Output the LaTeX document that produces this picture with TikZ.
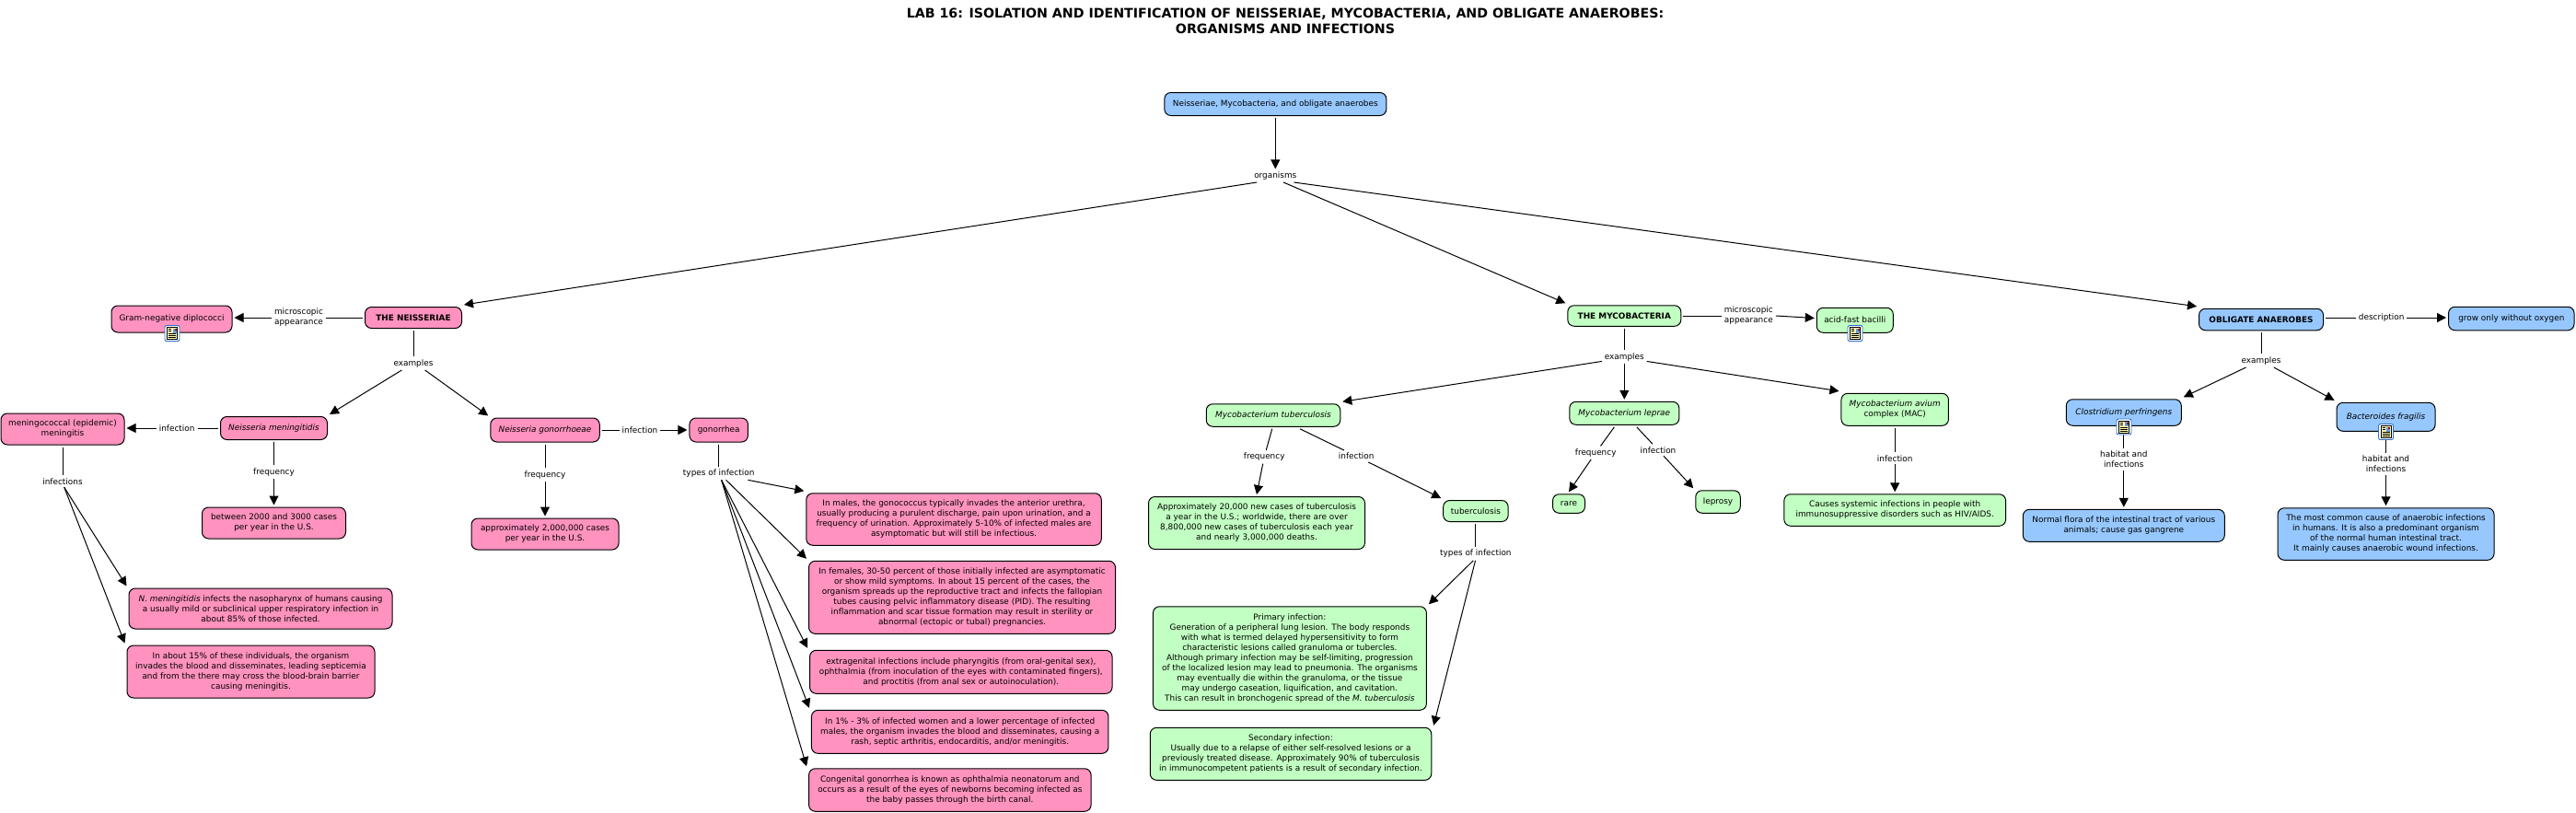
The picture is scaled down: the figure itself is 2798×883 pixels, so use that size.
\documentclass[tikz,border=0pt]{standalone}
\usepackage{fontspec}
\setmainfont{DejaVu Sans}
\usetikzlibrary{arrows.meta}

\definecolor{pinkFill}{RGB}{255,146,191}
\definecolor{greenFill}{RGB}{194,255,194}
\definecolor{blueFill}{RGB}{150,200,255}
\definecolor{iconBlue}{RGB}{45,110,200}
\definecolor{iconPaper}{RGB}{255,250,180}

\tikzset{
    box/.style={draw=black,line width=1pt,rounded corners=7pt,align=center,inner sep=0pt,outer sep=2.5pt,
        font=\fontsize{8.9}{11}\selectfont},
    pinkBox/.style={box,fill=pinkFill},
    greenBox/.style={box,fill=greenFill},
    blueBox/.style={box,fill=blueFill},
    linkLabel/.style={align=center,inner sep=0pt,outer sep=3pt,
        font=\fontsize{8.9}{11}\selectfont},
    link/.style={line width=1pt},
    arrowLink/.style={link,-{Triangle[width=10pt,length=10pt]}},
    docIcon/.pic={
        \draw[iconBlue,fill=white,rounded corners=2pt,line width=.9pt] (-8,-8.5) rectangle (8,8.5);
        \draw[black,fill=iconPaper,line width=.7pt] (-5.5,-6.5) rectangle (5.5,6.5);
        \fill[iconBlue!70] (0.5,-5.5) rectangle (4.5,-0.5);
        \fill[red!60!black] (2.5,-5) rectangle (4.5,-3);
        \foreach \yy in {-4.5,-2.5} {
            \draw[black,line width=.6pt] (-4,\yy) -- (-1,\yy);
        }
        \foreach \yy in {0.5,2.5,4.5} {
            \draw[black,line width=.6pt] (-4,\yy) -- (4,\yy);
        }
    }
}

\begin{document}
\begin{tikzpicture}[x=1pt,y=-1pt]
    \useasboundingbox (0,0) rectangle (2798,883);

    \node[font=\bfseries\fontsize{14.2}{17}\selectfont,align=center,inner sep=0pt] (mainTitle) at (1396,23) {LAB 16: ISOLATION AND IDENTIFICATION OF NEISSERIAE, MYCOBACTERIA, AND OBLIGATE ANAEROBES:\\ORGANISMS AND INFECTIONS};

    \node[blueBox,minimum width=241,minimum height=25] (rootBox) at (1385.3,113) {Neisseriae, Mycobacteria, and obligate anaerobes};
    \node[linkLabel] (organismsLabel) at (1385.3,190.7) {organisms};

    % neisseriae
    \node[pinkBox,minimum width=105,minimum height=23,font=\bfseries\fontsize{8.9}{11}\selectfont] (neisseriaeBox) at (449,345) {THE NEISSERIAE};
    \node[pinkBox,minimum width=131,minimum height=29] (gramNegBox) at (186.5,346.5) {\raisebox{2pt}{Gram-negative diplococci}};
    \node[linkLabel] (microLabelA) at (324.5,345) {microscopic\\appearance};
    \node[linkLabel] (examplesLabelA) at (449,394.7) {examples};
    \node[pinkBox,minimum width=116,minimum height=25] (meningitidisBox) at (297.5,465) {\textit{Neisseria meningitidis}};
    \node[pinkBox,minimum width=118.5,minimum height=26] (gonorrhoeaeBox) at (592,467) {\textit{Neisseria gonorrhoeae}};
    \node[pinkBox,minimum width=134,minimum height=34] (meningococcalBox) at (68,466) {meningococcal (epidemic)\\meningitis};
    \node[linkLabel] (infectionLabelA) at (192.2,465) {infection};
    \node[linkLabel] (frequencyLabelA) at (297.5,512.7) {frequency};
    \node[linkLabel] (frequencyLabelB) at (592,515.7) {frequency};
    \node[pinkBox,minimum width=156,minimum height=34] (casesBoxA) at (297.5,568) {between 2000 and 3000 cases\\per year in the U.S.};
    \node[pinkBox,minimum width=160,minimum height=34] (casesBoxB) at (592,580) {approximately 2,000,000 cases\\per year in the U.S.};
    \node[linkLabel] (infectionsLabel) at (68,522.7) {infections};
    \node[pinkBox,minimum width=286,minimum height=44] (nasopharynxBox) at (283,661) {\textit{N. meningitidis}  infects the nasopharynx of humans causing\\a usually mild or subclinical upper respiratory infection in\\about 85\% of those infected.};
    \node[pinkBox,minimum width=269,minimum height=57] (septicemiaBox) at (272.5,729.5) {In about 15\% of these individuals, the organism\\invades the blood and disseminates, leading septicemia\\and from the there may cross the blood-brain barrier\\causing meningitis.};
    \node[linkLabel] (infectionLabelB) at (695,467) {infection};
    \node[pinkBox,minimum width=63.5,minimum height=26] (gonorrheaBox) at (780.7,467) {gonorrhea};
    \node[linkLabel] (typesLabelA) at (780.7,514) {types of infection};
    \node[pinkBox,minimum width=320.5,minimum height=56.5] (malesBox) at (1036,564) {In males, the gonococcus typically invades the anterior urethra,\\usually producing a purulent discharge, pain upon urination, and a\\frequency of urination. Approximately 5-10\% of infected males are\\asymptomatic but will still be infectious.};
    \node[pinkBox,minimum width=333,minimum height=79] (femalesBox) at (1045,648.8) {In females, 30-50 percent of those initially infected are asymptomatic\\or show mild symptoms. In about 15 percent of the cases, the\\organism spreads up the reproductive tract and infects the fallopian\\tubes causing pelvic inflammatory disease (PID). The resulting\\inflammation and scar tissue formation may result in sterility or\\abnormal (ectopic or tubal) pregnancies.};
    \node[pinkBox,minimum width=328.5,minimum height=47] (extragenitalBox) at (1043.8,729.8) {extragenital infections include pharyngitis (from oral-genital sex),\\ophthalmia (from inoculation of the eyes with contaminated fingers),\\and proctitis (from anal sex or autoinoculation).};
    \node[pinkBox,minimum width=322.5,minimum height=47] (disseminatedBox) at (1042.7,794.8) {In 1\% - 3\% of infected women and a lower percentage of infected\\males, the organism invades the blood and disseminates, causing a\\rash, septic arthritis, endocarditis, and/or meningitis.};
    \node[pinkBox,minimum width=306.5,minimum height=46.5] (congenitalBox) at (1031.8,858) {Congenital gonorrhea is known as ophthalmia neonatorum and\\occurs as a result of the eyes of newborns becoming infected as\\the baby passes through the birth canal.};

    % mycobacteria
    \node[greenBox,minimum width=123,minimum height=22.5,font=\bfseries\fontsize{8.9}{11}\selectfont] (mycobacteriaBox) at (1764.3,343) {THE MYCOBACTERIA};
    \node[linkLabel] (microLabelB) at (1899.3,343) {microscopic\\appearance};
    \node[greenBox,minimum width=83,minimum height=27] (acidFastBox) at (2014.8,347.8) {\raisebox{2pt}{acid-fast bacilli}};
    \node[linkLabel] (examplesLabelB) at (1764.3,387.7) {examples};
    \node[greenBox,minimum width=145.5,minimum height=24.5] (tuberculosisBox) at (1383,451) {\textit{Mycobacterium tuberculosis}};
    \node[greenBox,minimum width=119,minimum height=25] (lepraeBox) at (1764.3,448.8) {\textit{Mycobacterium leprae}};
    \node[greenBox,minimum width=116.5,minimum height=35] (aviumBox) at (2058.2,444.8) {\textit{Mycobacterium avium}\\complex (MAC)};
    \node[linkLabel] (frequencyLabelC) at (1373.2,496.3) {frequency};
    \node[linkLabel] (infectionLabelC) at (1473.2,495.5) {infection};
    \node[greenBox,minimum width=235,minimum height=57] (worldwideBox) at (1365,568) {Approximately 20,000 new cases of tuberculosis\\a year in the U.S.; worldwide, there are over\\8,800,000 new cases of tuberculosis each year\\and nearly 3,000,000 deaths.};
    \node[greenBox,minimum width=70.5,minimum height=23] (diseaseBox) at (1602.9,555) {tuberculosis};
    \node[linkLabel] (typesLabelB) at (1602.9,601.5) {types of infection};
    \node[greenBox,minimum width=297,minimum height=112.5] (primaryBox) at (1400.9,715) {Primary infection:\\Generation of a peripheral lung lesion. The body responds\\with what is termed delayed hypersensitivity to form\\characteristic lesions called granuloma or tubercles.\\Although primary infection may be self-limiting, progression\\of the localized lesion may lead to pneumonia. The organisms\\may eventually die within the granuloma, or the tissue\\may undergo caseation, liquification, and cavitation.\\This can result in bronchogenic spread of the \textit{M. tuberculosis}};
    \node[greenBox,minimum width=305.5,minimum height=57] (secondaryBox) at (1402,818.8) {Secondary infection:\\Usually due to a relapse of either self-resolved lesions or a\\previously treated disease. Approximately 90\% of tuberculosis\\in immunocompetent patients is a result of secondary infection.};
    \node[linkLabel] (frequencyLabelD) at (1733.2,491.7) {frequency};
    \node[linkLabel] (infectionLabelD) at (1801,488.7) {infection};
    \node[greenBox,minimum width=35,minimum height=20.5] (rareBox) at (1704,547) {rare};
    \node[greenBox,minimum width=48.5,minimum height=24.5] (leprosyBox) at (1866,545) {leprosy};
    \node[linkLabel] (infectionLabelE) at (2058.2,497.7) {infection};
    \node[greenBox,minimum width=240.7,minimum height=34.5] (systemicBox) at (2058.2,554) {Causes systemic infections in people with\\immunosuppressive disorders such as HIV/AIDS.};

    % anaerobes
    \node[blueBox,minimum width=135,minimum height=23.5,font=\bfseries\fontsize{8.9}{11}\selectfont] (anaerobesBox) at (2456,347) {OBLIGATE ANAEROBES};
    \node[linkLabel] (descriptionLabel) at (2586.7,345) {description};
    \node[blueBox,minimum width=136.5,minimum height=25.5] (oxygenBox) at (2727.8,346) {grow only without oxygen};
    \node[linkLabel] (examplesLabelC) at (2456,391.7) {examples};
    \node[blueBox,minimum width=125,minimum height=28.5] (perfringensBox) at (2306.8,448) {\raisebox{2pt}{\textit{Clostridium perfringens}}};
    \node[blueBox,minimum width=107,minimum height=31] (fragilisBox) at (2591.5,452.8) {\raisebox{1pt}{\textit{Bacteroides fragilis}}};
    \node[linkLabel] (habitatLabelA) at (2306.8,499) {habitat and\\infections};
    \node[linkLabel] (habitatLabelB) at (2591.5,504) {habitat and\\infections};
    \node[blueBox,minimum width=219,minimum height=35] (gangreneBox) at (2306.8,570.8) {Normal flora of the intestinal tract of various\\animals;  cause gas gangrene};
    \node[blueBox,minimum width=235,minimum height=56.5] (woundBox) at (2591.5,580) {The most common cause of anaerobic infections\\in humans. It is also a predominant organism\\of the normal human intestinal tract.\\It mainly causes anaerobic wound infections.};

    \draw[arrowLink] (rootBox.south) -- (organismsLabel.north);
    \draw[arrowLink] (organismsLabel.200) -- (neisseriaeBox.north east);
    \draw[arrowLink] (organismsLabel.-40) -- (mycobacteriaBox.north west);
    \draw[arrowLink] (organismsLabel.-20) -- (anaerobesBox.north west);

    \draw[link] (neisseriaeBox.west) -- (microLabelA.east);
    \draw[arrowLink] (microLabelA.west) -- (gramNegBox.east |- microLabelA.west);
    \draw[link] (neisseriaeBox.south) -- (examplesLabelA.north);
    \draw[arrowLink] (examplesLabelA.-150) -- (meningitidisBox.north east);
    \draw[arrowLink] (examplesLabelA.-30) -- (gonorrhoeaeBox.north west);
    \draw[link] (meningitidisBox.west) -- (infectionLabelA.east);
    \draw[arrowLink] (infectionLabelA.west) -- (meningococcalBox.east |- infectionLabelA.west);
    \draw[link] (meningitidisBox.south) -- (frequencyLabelA.north);
    \draw[arrowLink] (frequencyLabelA.south) -- (casesBoxA.north);
    \draw[link] (gonorrhoeaeBox.south) -- (frequencyLabelB.north);
    \draw[arrowLink] (frequencyLabelB.south) -- (casesBoxB.north);
    \draw[link] (meningococcalBox.south) -- (infectionsLabel.north);
    \draw[arrowLink] (infectionsLabel.-75) -- (nasopharynxBox.north west);
    \draw[arrowLink] (infectionsLabel.-75) -- (septicemiaBox.north west);
    \draw[link] (gonorrhoeaeBox.east) -- (infectionLabelB.west);
    \draw[arrowLink] (infectionLabelB.east) -- (gonorrheaBox.west);
    \draw[link] (gonorrheaBox.south) -- (typesLabelA.north);
    \draw[arrowLink] (typesLabelA.-13) -- (malesBox.north west);
    \draw[arrowLink] (typesLabelA.-43) -- (femalesBox.north west);
    \draw[arrowLink] (typesLabelA.-68) -- (extragenitalBox.north west);
    \draw[arrowLink] (typesLabelA.-68) -- (disseminatedBox.north west);
    \draw[arrowLink] (typesLabelA.-68) -- (congenitalBox.north west);

    \draw[link] (mycobacteriaBox.south) -- (examplesLabelB.north);
    \draw[link] (mycobacteriaBox.east) -- (microLabelB.west);
    \draw[arrowLink] (microLabelB.east) -- (acidFastBox.177);
    \draw[arrowLink] (examplesLabelB.191) -- (tuberculosisBox.north east);
    \draw[arrowLink] (examplesLabelB.south) -- (lepraeBox.north);
    \draw[arrowLink] (examplesLabelB.-11) -- (aviumBox.north west);
    \draw[link] (tuberculosisBox.-95) -- (frequencyLabelC);
    \draw[arrowLink] (frequencyLabelC) -- (worldwideBox.north);
    \draw[link] (tuberculosisBox.-27) -- (infectionLabelC);
    \draw[arrowLink] (infectionLabelC) -- (diseaseBox.north west);
    \draw[link] (diseaseBox.south) -- (typesLabelB.north);
    \draw[arrowLink] (typesLabelB.-110) -- (primaryBox.north east);
    \draw[arrowLink] (typesLabelB.-93) -- (secondaryBox.north east);
    \draw[link] (lepraeBox.-126) -- (frequencyLabelD);
    \draw[arrowLink] (frequencyLabelD) -- (rareBox.north);
    \draw[link] (lepraeBox.-48) -- (infectionLabelD);
    \draw[arrowLink] (infectionLabelD) -- (leprosyBox.north west);
    \draw[link] (aviumBox.south) -- (infectionLabelE.north);
    \draw[arrowLink] (infectionLabelE.south) -- (systemicBox.north);

    \draw[link] (anaerobesBox.east |- descriptionLabel.west) -- (descriptionLabel.west);
    \draw[arrowLink] (descriptionLabel.east) -- (oxygenBox.west |- descriptionLabel.east);
    \draw[link] (anaerobesBox.south) -- (examplesLabelC.north);
    \draw[arrowLink] (examplesLabelC.-156) -- (perfringensBox.north east);
    \draw[arrowLink] (examplesLabelC.-28) -- (fragilisBox.north west);
    \draw[link] (perfringensBox.south) -- (habitatLabelA.north);
    \draw[arrowLink] (habitatLabelA.south) -- (gangreneBox.north);
    \draw[link] (fragilisBox.south) -- (habitatLabelB.north);
    \draw[arrowLink] (habitatLabelB.south) -- (woundBox.north);

    \pic at (187,362) {docIcon};
    \pic at (2015,362) {docIcon};
    \pic at (2307,463.5) {docIcon};
    \pic at (2591.5,469) {docIcon};
\end{tikzpicture}
\end{document}
